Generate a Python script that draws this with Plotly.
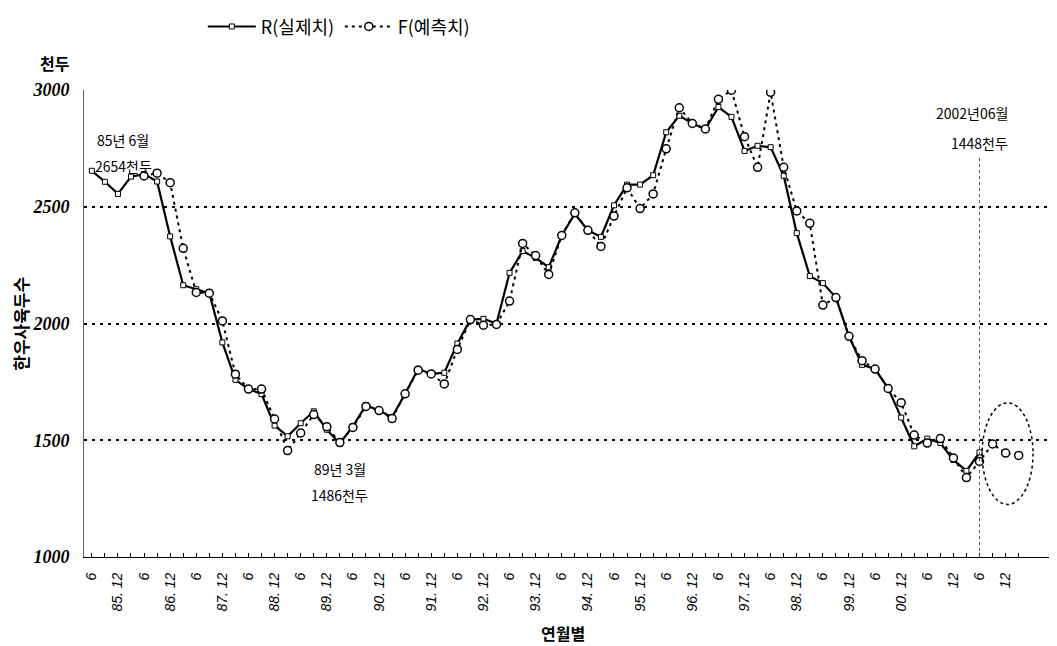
import plotly.graph_objects as go

# Quarterly periods (YY.MM), first actual point 85.06
quarters = []
for yy in range(1985, 2004):
    for mm in (3, 6, 9, 12):
        quarters.append(f"{yy % 100:02d}.{mm:02d}")
quarters = quarters[1:1 + 72]  # 85.06 ... 03.03

# R: actual values (thousand head), 85.06 .. 02.06
actual = [2654, 2607, 2555, 2629, 2640, 2608, 2373, 2164, 2147, 2130,
          1919, 1759, 1719, 1698, 1563, 1517, 1573, 1624, 1545, 1486,
          1560, 1650, 1627, 1599, 1699, 1806, 1784, 1789, 1914, 2017,
          2020, 2000, 2217, 2310, 2281, 2241, 2377, 2470, 2399, 2371,
          2506, 2595, 2595, 2635, 2819, 2890, 2857, 2833, 2927, 2885,
          2739, 2761, 2755, 2633, 2387, 2203, 2173, 2111, 1945, 1823,
          1805, 1722, 1597, 1474, 1507, 1488, 1416, 1369, 1448]

# F: forecast values, 86.06 .. 03.03
forecast_start = 4
forecast = [2632, 2644, 2603, 2322, 2133, 2130, 2011, 1783, 1719, 1719,
            1591, 1456, 1531, 1610, 1558, 1490, 1555, 1645, 1627, 1593,
            1699, 1800, 1784, 1741, 1889, 2017, 1993, 1996, 2096, 2343,
            2291, 2210, 2377, 2474, 2399, 2330, 2460, 2581, 2492, 2555,
            2748, 2924, 2857, 2833, 2960, 2999, 2800, 2669, 2990, 2669,
            2482, 2429, 2079, 2111, 1945, 1841, 1805, 1722, 1661, 1522,
            1488, 1507, 1424, 1340, 1409, 1484, 1445, 1435]

tick_labels = ["6", "85. 12", "6", "86. 12", "6", "87. 12", "6", "88. 12",
               "6", "89. 12", "6", "90. 12", "6", "91. 12", "6", "92. 12",
               "6", "93. 12", "6", "94. 12", "6", "95. 12", "6", "96. 12",
               "6", "97. 12", "6", "98. 12", "6", "99. 12", "6", "00. 12",
               "6", "12", "6", "12"]

y_ticks = [1000, 1500, 2000, 2500, 3000]

KR = "Noto Sans CJK KR"

tickvals = quarters[:len(tick_labels) * 2]
ticktext = []
for lab in tick_labels:
    ticktext += [lab, ""]

fig = go.Figure()
fig.add_trace(go.Scatter(
    x=quarters[:len(actual)], y=actual, name="R(실제치)",
    mode="lines+markers",
    line=dict(color="black", width=2.2),
    marker=dict(symbol="square", size=5, color="white",
                line=dict(color="black", width=1)),
))
fig.add_trace(go.Scatter(
    x=quarters[forecast_start:forecast_start + len(forecast)], y=forecast,
    name="F(예측치)", mode="lines+markers",
    line=dict(color="black", width=2, dash="3px,4px"),
    marker=dict(symbol="circle", size=8, color="white",
                line=dict(color="black", width=1.5)),
))

# vertical marker at 2002.06 and ellipse around forecast tail
fig.add_shape(type="line", xref="x", yref="y", x0=68, x1=68, y0=1000, y1=2722,
              line=dict(color="#555", width=1, dash="dot"))
fig.add_shape(type="circle", xref="x", yref="y", x0=68.2, x1=72.1,
              y0=1225, y1=1660, line=dict(color="black", width=1.5, dash="dot"))

ann = [
    ("85년 6월", 2.4, 2786), ("2654천두", 2.4, 2675),
    ("89년 3월", 19.0, 1377), ("1486천두", 19.0, 1266),
    ("97년 6월", 47.8, 3133), ("2927천두", 47.9, 3021),
    ("2002년06월", 67.4, 2901), ("1448천두", 68.0, 2773),
]
for txt, xx, yy in ann:
    fig.add_annotation(x=xx, y=yy, xref="x", yref="y", text=txt,
                       xanchor="center", yanchor="middle",
                       showarrow=False, font=dict(family=KR, size=14, color="black"))

fig.add_annotation(x=-0.030, y=1.058, xref="paper", yref="paper", text="천두",
                   xanchor="center", yanchor="middle", showarrow=False,
                   font=dict(family=KR, size=16, color="black", weight="bold"))
fig.add_annotation(x=-0.066, y=0.50, xref="paper", yref="paper", text="한우사육두수",
                   xanchor="center", yanchor="middle",
                   textangle=-90, showarrow=False,
                   font=dict(family=KR, size=17, color="black", weight="bold"))
fig.add_annotation(x=0.496, y=-0.163, xref="paper", yref="paper", text="연월별",
                   xanchor="center", yanchor="middle", showarrow=False,
                   font=dict(family=KR, size=16, color="black", weight="bold"))

fig.update_layout(
    template="none",
    width=1049, height=638,
    margin=dict(l=76, r=7, t=82, b=89, autoexpand=False),
    paper_bgcolor="white", plot_bgcolor="white",
    showlegend=True,
    legend=dict(orientation="h", x=0.123, y=1.175, xanchor="left", yanchor="top",
                font=dict(family=KR, size=18, color="black"),
                itemwidth=48, entrywidth=74, bgcolor="rgba(0,0,0,0)"),
    xaxis=dict(
        type="category", categoryorder="array", categoryarray=quarters,
        range=[-0.6, 73.4], tickmode="array", tickvals=tickvals, ticktext=ticktext,
        tickangle=-90, ticks="inside", ticklen=4, tickcolor="black",
        tickfont=dict(family="Liberation Sans", size=14, color="black", style="italic"),
        showline=True, linecolor="black", linewidth=1, showgrid=False,
        ticklabelstandoff=9, automargin=False,
    ),
    yaxis=dict(
        range=[1000, 3000], tickmode="array", tickvals=y_ticks,
        ticks="", showline=True, linecolor="#666", linewidth=1,
        showgrid=True, gridcolor="black", gridwidth=2, griddash="3px,5px",
        tickfont=dict(family="Liberation Serif", size=18, color="black",
                      style="italic", weight="bold"),
        ticklabelstandoff=10, zeroline=False, automargin=False,
    ),
)

fig.write_html("out.html")
